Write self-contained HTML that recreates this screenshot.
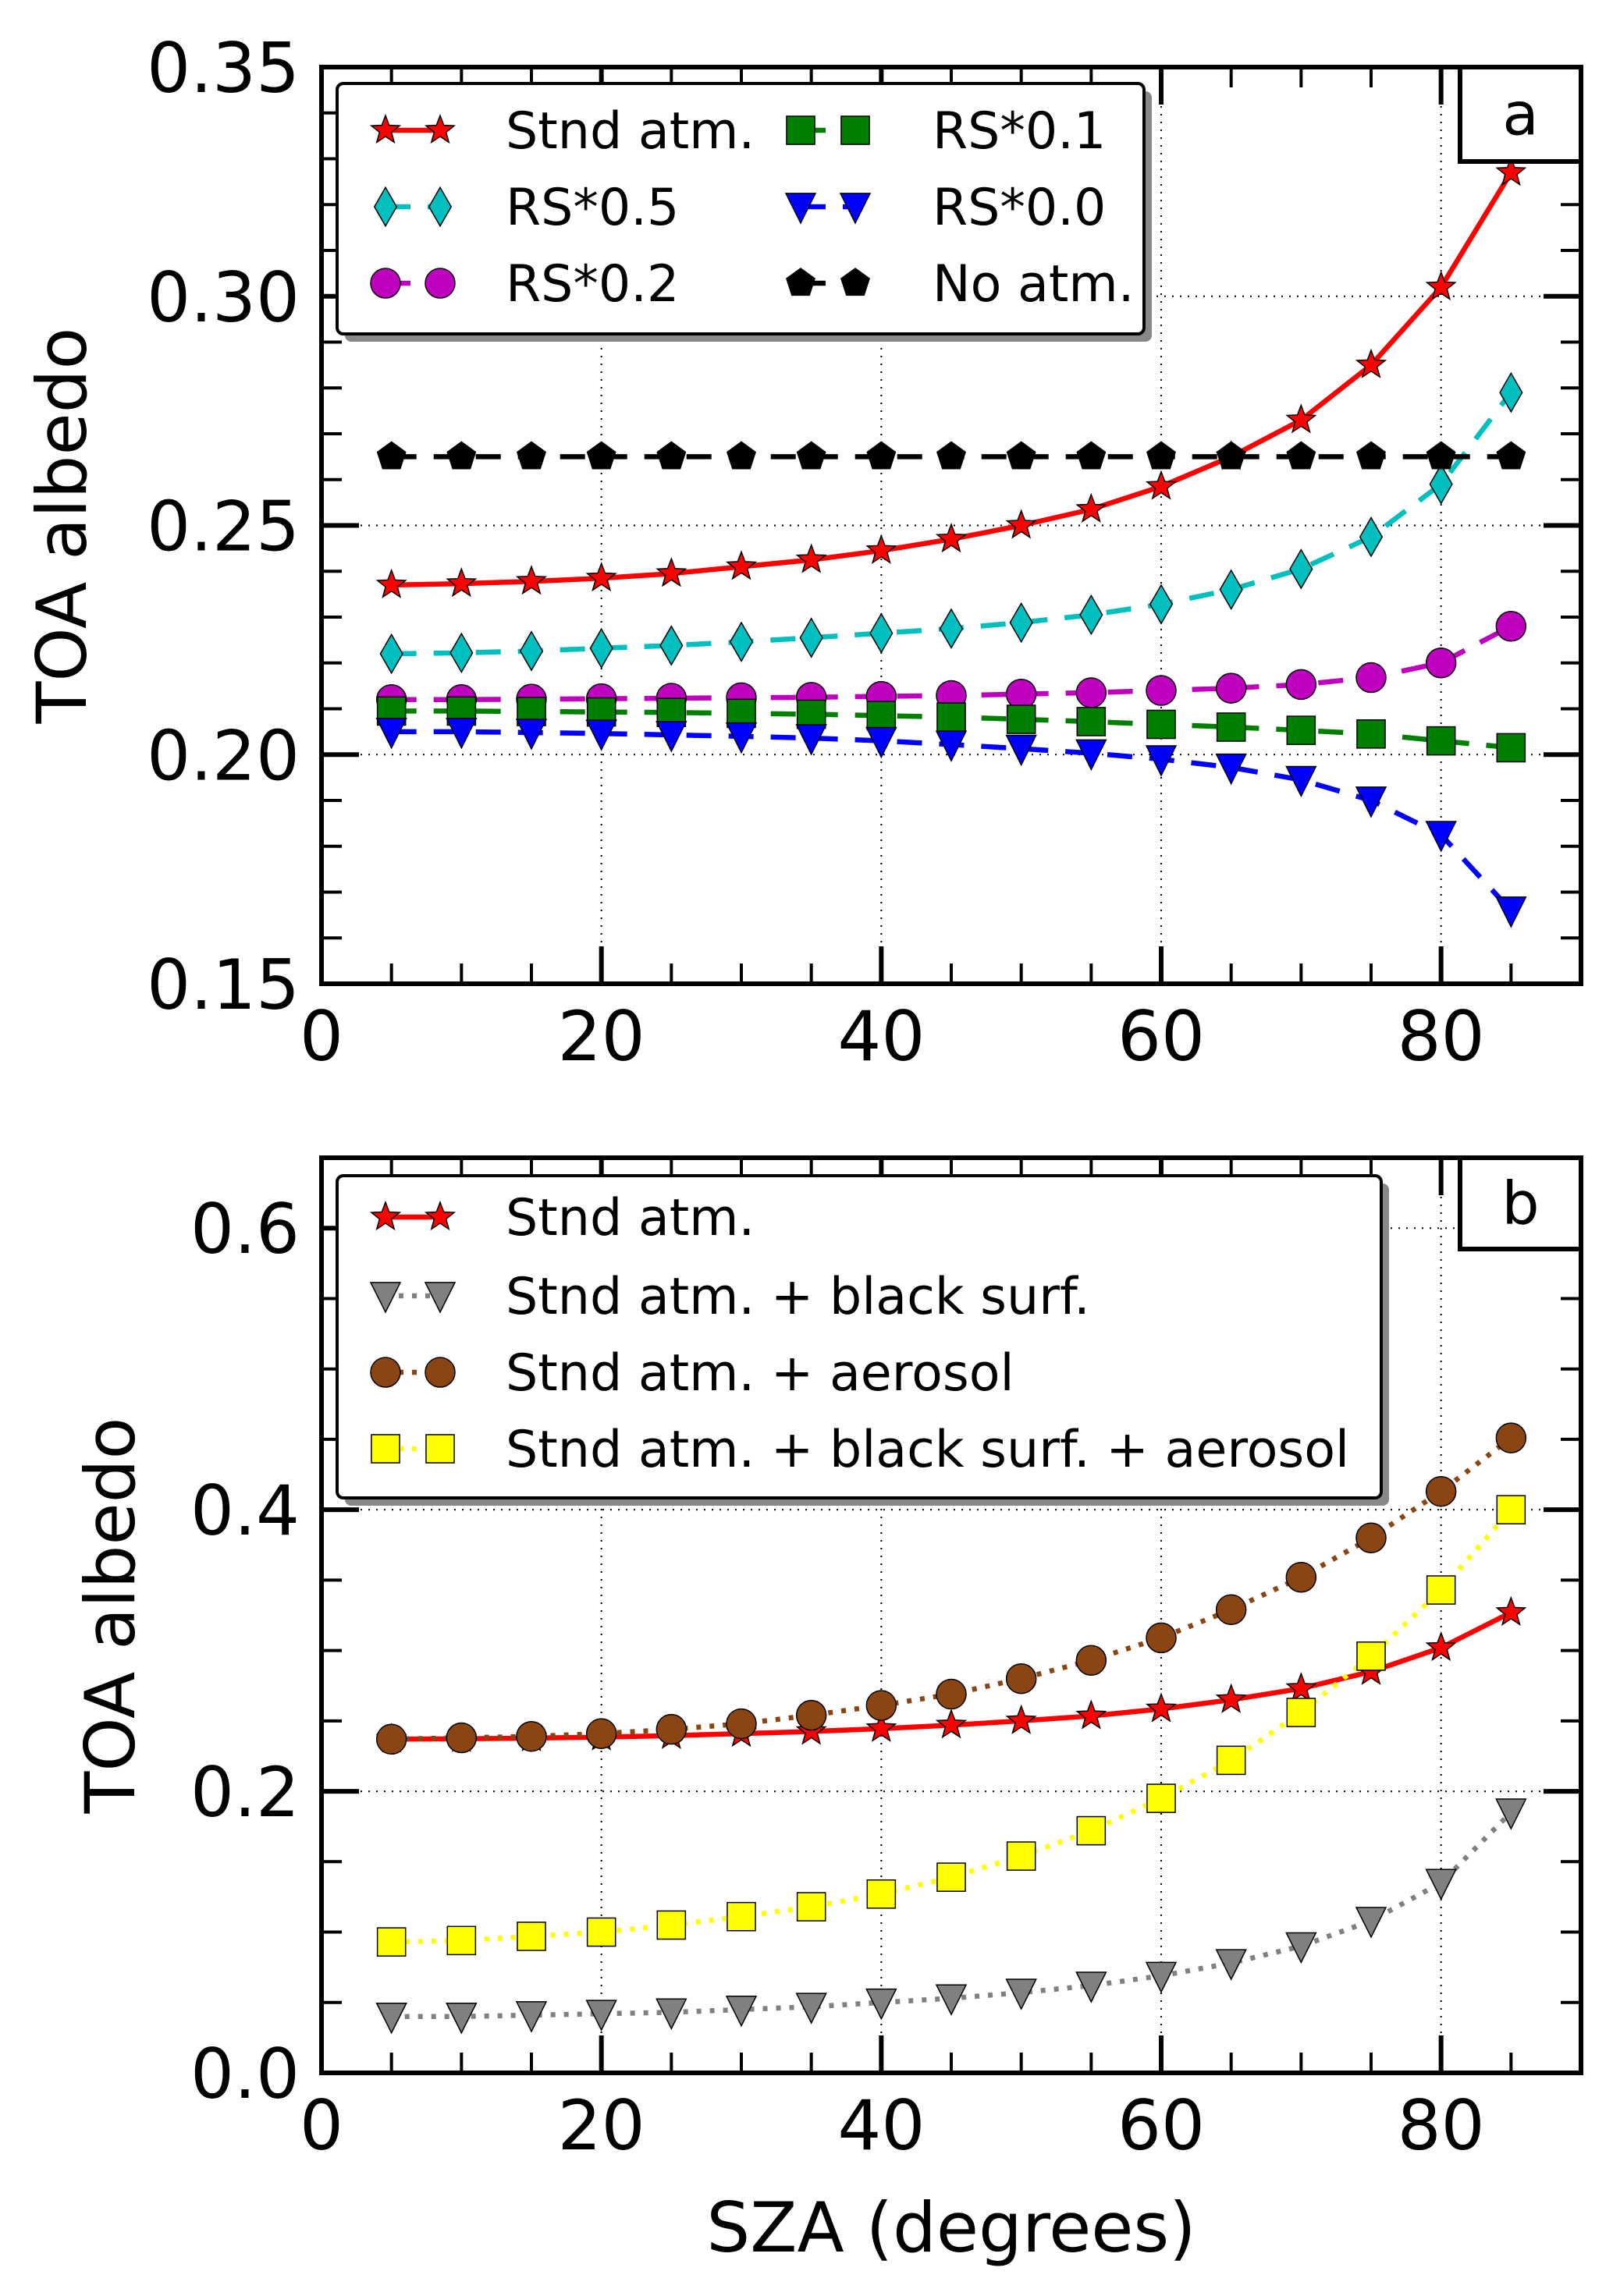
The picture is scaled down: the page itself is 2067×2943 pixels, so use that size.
<!DOCTYPE html>
<html><head><meta charset="utf-8"><style>
html,body{margin:0;padding:0;background:#fff;}
svg{display:block;font-family:"DejaVu Sans","Liberation Sans",sans-serif;}
</style></head><body>
<svg id="fig" width="2067" height="2943" viewBox="0 0 2067 2943" xmlns="http://www.w3.org/2000/svg"></svg>
<script>
const sza = [5,10,15,20,25,30,35,40,45,50,55,60,65,70,75,80,85];
const stnd = [0.237,0.2373,0.2378,0.2385,0.2395,0.241,0.2425,0.2445,0.247,0.250,0.2535,0.2585,0.265,0.273,0.285,0.302,0.327];
const rs05 = [0.222,0.2222,0.2226,0.2232,0.2238,0.2246,0.2255,0.2265,0.2275,0.2288,0.2305,0.2328,0.236,0.2405,0.2475,0.259,0.279];
const rs02 = [0.212,0.212,0.2121,0.2122,0.2123,0.2124,0.2125,0.2127,0.2129,0.2132,0.2135,0.214,0.2145,0.2153,0.2168,0.220,0.228];
const rs01 = [0.2095,0.2095,0.2094,0.2093,0.2092,0.209,0.2088,0.2085,0.2082,0.2077,0.2072,0.2066,0.206,0.2053,0.2045,0.203,0.2015];
const rs00 = [0.205,0.205,0.2048,0.2046,0.2043,0.204,0.2036,0.203,0.2022,0.2013,0.2003,0.199,0.1972,0.1945,0.190,0.1825,0.166];
const noatm = [0.265,0.265,0.265,0.265,0.265,0.265,0.265,0.265,0.265,0.265,0.265,0.265,0.265,0.265,0.265,0.265,0.265];
const blacksurf = [0.04,0.04,0.041,0.042,0.043,0.045,0.047,0.05,0.053,0.057,0.062,0.069,0.078,0.09,0.108,0.135,0.185];
const aerosol = [0.237,0.238,0.239,0.241,0.244,0.248,0.254,0.261,0.269,0.28,0.293,0.309,0.329,0.352,0.38,0.413,0.451];
const blackAer = [0.093,0.094,0.097,0.100,0.105,0.111,0.118,0.127,0.139,0.154,0.172,0.195,0.222,0.256,0.296,0.343,0.40];
const xTicks = [0,20,40,60,80];
const yTicksA = ["0.15","0.20","0.25","0.30","0.35"];
const yTicksB = ["0.0","0.2","0.4","0.6"];

const NS="http://www.w3.org/2000/svg";
const svg=document.getElementById('fig');
function el(tag,attrs,parent){const e=document.createElementNS(NS,tag);for(const k in attrs)e.setAttribute(k,attrs[k]);(parent||svg).appendChild(e);return e;}

function marker(g,type,x,y,fill){
  const s=19;let e;
  if(type==='star'){let p=[];for(let i=0;i<10;i++){const r=i%2?s*0.42:s;const a=-Math.PI/2+i*Math.PI/5;p.push((x+r*Math.cos(a)).toFixed(1)+','+(y+r*Math.sin(a)).toFixed(1));}
    e=el('polygon',{points:p.join(' '),fill,stroke:'#000','stroke-width':1.5},g);}
  else if(type==='diamond'){e=el('polygon',{points:`${x},${y-s*1.3} ${x+s*0.75},${y} ${x},${y+s*1.3} ${x-s*0.75},${y}`,fill,stroke:'#000','stroke-width':1.5},g);}
  else if(type==='circle'){e=el('circle',{cx:x,cy:y,r:s,fill,stroke:'#000','stroke-width':1.5},g);}
  else if(type==='square'){e=el('rect',{x:x-s*0.95,y:y-s*0.95,width:s*1.9,height:s*1.9,fill,stroke:'#000','stroke-width':1.5},g);}
  else if(type==='tri'){e=el('polygon',{points:`${x-s},${y-s*0.9} ${x+s},${y-s*0.9} ${x},${y+s*1.1}`,fill,stroke:'#000','stroke-width':1.5},g);}
  else if(type==='pent'){let p=[];for(let i=0;i<5;i++){const a=-Math.PI/2+i*2*Math.PI/5;p.push((x+s*Math.cos(a)).toFixed(1)+','+(y+s*Math.sin(a)).toFixed(1));}
    e=el('polygon',{points:p.join(' '),fill,stroke:'#000','stroke-width':1.5},g);}
  
  
}

function panel(cfg){
  const {L,R,T,B,ymin,ymax,minorStep,yTicks,series,label,leg}=cfg;
  const X=v=>L+(v-0)/90*(R-L);
  const Y=v=>B-(v-ymin)/(ymax-ymin)*(B-T);
  const g=el('g',{});
  
  
  xTicks.forEach(v=>{if(v>0)el('line',{x1:X(v),x2:X(v),y1:T,y2:B,stroke:'#000','stroke-width':2,'stroke-dasharray':'2,8'},g);});
  yTicks.forEach(t=>{const v=+t;if(v>ymin&&v<ymax)el('line',{x1:L,x2:R,y1:Y(v),y2:Y(v),stroke:'#000','stroke-width':2,'stroke-dasharray':'2,8'},g);});
  for(let v=5;v<90;v+=5){const maj=v%20===0;const len=maj?48:26;
    el('line',{x1:X(v),x2:X(v),y1:B,y2:B-len,stroke:'#000','stroke-width':maj?6:4},g);
    el('line',{x1:X(v),x2:X(v),y1:T,y2:T+len,stroke:'#000','stroke-width':maj?6:4},g);}
  const n=Math.round((ymax-ymin)/minorStep);
  for(let i=1;i<n;i++){const v=ymin+i*minorStep;const maj=yTicks.some(t=>Math.abs(+t-v)<1e-6);const len=maj?48:26;
    el('line',{x1:L,x2:L+len,y1:Y(v),y2:Y(v),stroke:'#000','stroke-width':maj?6:4},g);
    el('line',{x1:R,x2:R-len,y1:Y(v),y2:Y(v),stroke:'#000','stroke-width':maj?6:4},g);}
  series.forEach(s=>{
    const sg=el('g',{},g);
    
    
    const pts=sza.map((x,i)=>X(x).toFixed(1)+','+Y(s.data[i]).toFixed(1)).join(' ');
    el('polyline',{points:pts,fill:'none',stroke:s.color,'stroke-width':6.5,'stroke-dasharray':s.dash||''},sg);
    sza.forEach((x,i)=>marker(sg,s.m,X(x),Y(s.data[i]),s.fill));
  });
  el('rect',{x:L,y:T,width:R-L,height:B-T,fill:'none',stroke:'#000','stroke-width':6},g);
  xTicks.forEach(v=>{const t=el('text',{x:X(v),y:B+98,'font-size':88,'text-anchor':'middle'},g);t.textContent=v;
    });
  yTicks.forEach(s=>{const t=el('text',{x:L-28,y:Y(+s)+32,'font-size':88,'text-anchor':'end'},g);t.textContent=s;
    });
  const yt=el('text',{x:0,y:0,'font-size':88,'text-anchor':'middle',transform:`translate(${cfg.ytx},${(T+B)/2}) rotate(-90)`,'xml:space':'preserve'},g);
  yt.textContent='TOA  albedo';
  
  const lb=el('rect',{x:1871,y:T,width:R-1871,height:cfg.lbH,fill:'#fff',stroke:'#000','stroke-width':6},g);
  
  const lt=el('text',{x:(1871+R)/2,y:T+cfg.lbH/2+26,'font-size':76,'text-anchor':'middle'},g);lt.textContent=label;
  
  const lg=el('g',{},g);
  
  el('rect',{x:leg.x+10,y:leg.y+10,width:leg.w,height:leg.h,rx:8,fill:'#888'},lg);
  el('rect',{x:leg.x,y:leg.y,width:leg.w,height:leg.h,rx:8,fill:'#fff',stroke:'#000','stroke-width':4},lg);
  leg.items.forEach(it=>{
    const s=series[it.i];
    const eg=el('g',{},lg);
    
    el('line',{x1:it.mx,x2:it.mx+70,y1:it.y,y2:it.y,stroke:s.color,'stroke-width':6.5,'stroke-dasharray':s.dash||''},eg);
    marker(eg,s.m,it.mx,it.y,s.fill);marker(eg,s.m,it.mx+70,it.y,s.fill);
    const t=el('text',{x:it.tx,y:it.y+23,'font-size':65,'xml:space':'preserve'},eg);t.textContent=s.label;
  });
}

panel({L:412,R:2026,T:86,B:1261,ymin:0.15,ymax:0.35,minorStep:0.01,yTicks:yTicksA,label:'a',lbH:121,ytx:110,
  series:[
    {name:'stnd',label:'Stnd  atm.',data:stnd,color:'#f00',fill:'#f00',m:'star'},
    {name:'rs05',label:'RS*0.5',data:rs05,color:'#00bfbf',fill:'#00bfbf',m:'diamond',dash:'32,22'},
    {name:'rs02',label:'RS*0.2',data:rs02,color:'#bf00bf',fill:'#bf00bf',m:'circle',dash:'32,22'},
    {name:'rs01',label:'RS*0.1',data:rs01,color:'#007f00',fill:'#007f00',m:'square',dash:'32,22'},
    {name:'rs00',label:'RS*0.0',data:rs00,color:'#00f',fill:'#00f',m:'tri',dash:'32,22'},
    {name:'noatm',label:'No atm.',data:noatm,color:'#000',fill:'#000',m:'pent',dash:'32,22'}
  ],
  leg:{x:432,y:107,w:1034,h:321,items:[
    {i:0,mx:494,tx:648,y:167},{i:1,mx:494,tx:648,y:265},{i:2,mx:494,tx:648,y:363},
    {i:3,mx:1026,tx:1195,y:167},{i:4,mx:1026,tx:1195,y:265},{i:5,mx:1026,tx:1195,y:363}]}
});
panel({L:412,R:2026,T:1484,B:2657,ymin:0,ymax:0.65,minorStep:0.05,yTicks:yTicksB,label:'b',lbH:117,ytx:172,
  series:[
    {name:'stnd',label:'Stnd atm.',data:stnd,color:'#f00',fill:'#f00',m:'star'},
    {name:'black-surf',label:'Stnd atm. + black surf.',data:blacksurf,color:'#808080',fill:'#808080',m:'tri',dash:'6,11'},
    {name:'aerosol',label:'Stnd atm. + aerosol',data:aerosol,color:'#8b4513',fill:'#8b4513',m:'circle',dash:'6,11'},
    {name:'black-aerosol',label:'Stnd atm. + black surf. + aerosol',data:blackAer,color:'#ff0',fill:'#ff0',m:'square',dash:'6,11'}
  ],
  leg:{x:432,y:1507,w:1338,h:413,items:[
    {i:0,mx:494,tx:648,y:1560},{i:1,mx:494,tx:648,y:1661},{i:2,mx:494,tx:648,y:1759},{i:3,mx:494,tx:648,y:1857}]}
});
const xt=el('text',{x:1219,y:2886,'font-size':88,'text-anchor':'middle'});
xt.textContent='SZA (degrees)';


</script>
</body></html>
